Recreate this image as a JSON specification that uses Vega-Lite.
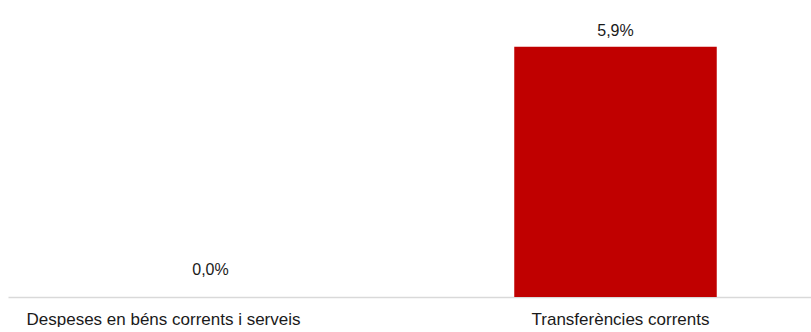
{
  "$schema": "https://vega.github.io/schema/vega-lite/v6.json",
  "width": 810,
  "height": 297,
  "padding": {"left": 8, "top": 0, "right": 0, "bottom": 0},
  "background": "white",
  "config": {"view": {"stroke": null}, "font": "Liberation Sans"},
  "data": {"values": [
    {"cat": "Despeses en béns corrents i serveis", "v": 0.0, "label": "0,0%"},
    {"cat": "Transferències corrents", "v": 5.9, "label": "5,9%"}
  ]},
  "encoding": {
    "x": {"field": "cat", "type": "nominal", "sort": null,
      "scale": {"paddingInner": 0.5, "paddingOuter": 0.25},
      "axis": {"title": null, "labelAngle": 0, "ticks": false, "domainColor": "#d9d9d9", "domainWidth": 1.5,
        "labelFontSize": 17, "labelColor": "#1a1a1a", "labelPadding": 14, "labelFont": "Liberation Sans", "labelLimit": 0,
        "labelOffset": {"expr": "datum.index == 0 ? -47 : 5"}}},
    "y": {"field": "v", "type": "quantitative", "scale": {"domain": [0, 7]}, "axis": null}
  },
  "layer": [
    {"mark": {"type": "bar", "color": "#c00000"}},
    {"transform": [{"filter": "datum.v != 0"}],
     "mark": {"type": "text", "fontSize": 16, "color": "#1a1a1a", "baseline": "middle", "dy": -16, "font": "Liberation Sans"},
     "encoding": {"text": {"field": "label"}}},
    {"transform": [{"filter": "datum.v == 0"}],
     "mark": {"type": "text", "fontSize": 16, "color": "#1a1a1a", "baseline": "middle", "dy": -27, "font": "Liberation Sans"},
     "encoding": {"text": {"field": "label"}}}
  ]
}
